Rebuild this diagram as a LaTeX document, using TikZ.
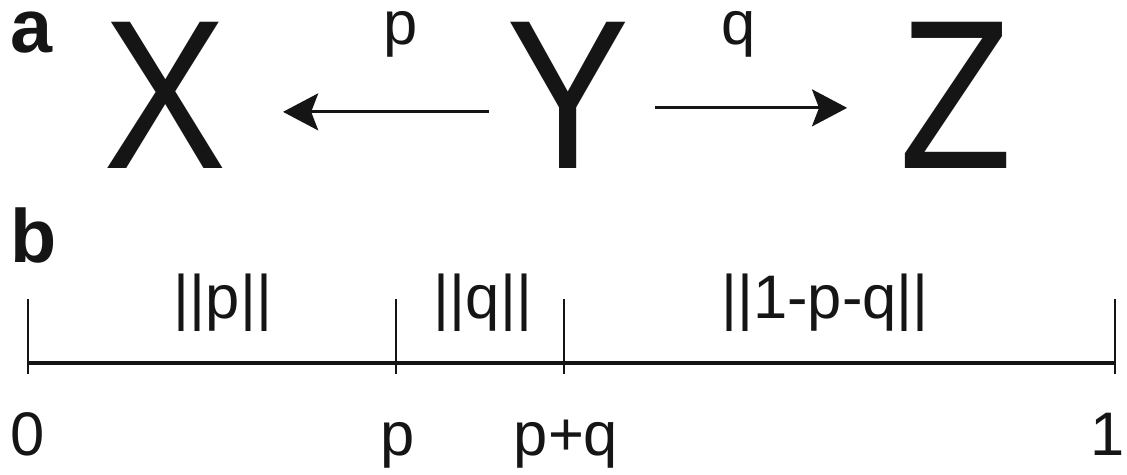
\documentclass[tikz,border=0pt]{standalone}
\usepackage{fontspec}
\setmainfont{Liberation Sans}
\newfontfamily\narrowsans[FakeStretch=0.87]{Liberation Sans}
\usepackage{tikz}
\usetikzlibrary{arrows.meta,positioning}
\definecolor{figink}{HTML}{151515}
\tikzset{
  panel/.style={font=\fontsize{43}{43}\selectfont\bfseries, anchor=base west, inner sep=0pt, text=figink},
  letter/.style={font=\narrowsans\fontsize{121}{121}\selectfont, anchor=base, inner sep=0pt, text=figink},
  rate/.style={font=\fontsize{35}{35}\selectfont, anchor=base, inner sep=0pt, text=figink},
  flow/.style={-{Stealth[length=20pt, width=21pt, inset=4pt]}, line width=1.8pt, draw=figink},
  axis/.style={line width=2pt, draw=figink},
  tickmark/.style={line width=1.4pt, draw=figink}
}

\begin{document}
\begin{tikzpicture}[x=0.02cm, y=-0.02cm]
  \useasboundingbox (0,0) rectangle (1127,474);
  \node[panel] (pa) at (10,52) {a};
  \node[letter] (X) at (165,168) {X};
  \node[letter] (Y) at (568,168) {Y};
  \node[letter] (Z) at (956,168) {Z};
  \draw[flow] ([shift={(-17,17)}]Y.west) -- ([shift={(56,17)}]X.east);
  \draw[flow] ([shift={(25,13)}]Y.east) -- ([shift={(-52,13)}]Z.west);
  \node[rate] (rp) at (401,44) {p};
  \node[rate] (rq) at (739,44) {q};
  \node[panel] (pb) at (10,262) {b};
  \coordinate (t0) at (28,363);
  \coordinate (tp) at (396,363);
  \coordinate (tpq) at (564,363);
  \coordinate (t1) at (1115,363);
  \draw[axis] (t0) -- (t1);
  \foreach \t in {t0,tp,tpq,t1}
    \draw[tickmark] ([shift={(0,-64)}]\t) -- ([shift={(0,11)}]\t);
  \node[rate] (sp) at (223,318) {||p||};
  \node[rate] (sq) at (483,318) {||q||};
  \node[rate] (sr) at (825,318) {||1-p-q||};
  \node[rate] (l0) at (28,455) {0};
  \node[rate] (lp) at (398,455) {p};
  \node[rate] (lpq) at (566,455) {p+q};
  \node[rate] (l1) at (1108,455) {1};
\end{tikzpicture}
\end{document}
